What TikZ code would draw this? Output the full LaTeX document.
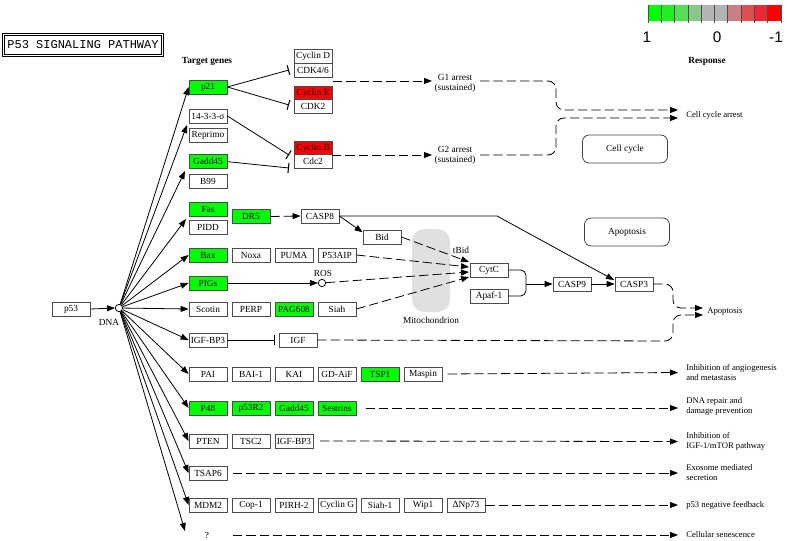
\documentclass[tikz,border=0pt]{standalone}
\usepackage{fontspec}
\setmainfont{Liberation Serif}
\newfontfamily\legfont{Liberation Sans}
\newfontfamily\ttlfont{Liberation Mono}
\usetikzlibrary{arrows.meta}
\definecolor{lg1}{HTML}{00FF00}
\definecolor{lg2}{HTML}{22EE22}
\definecolor{lg3}{HTML}{55DD55}
\definecolor{lg4}{HTML}{88C888}
\definecolor{lg5}{HTML}{B4B4B4}
\definecolor{lg6}{HTML}{B4B4B4}
\definecolor{lg7}{HTML}{C88080}
\definecolor{lg8}{HTML}{DC5050}
\definecolor{lg9}{HTML}{EC2838}
\definecolor{lg10}{HTML}{FF0000}
\begin{document}
\begin{tikzpicture}[x=0.75pt,y=-0.75pt,
  gene/.style={draw=black!70, line width=0.6pt, fill=white, minimum width=28.5pt, minimum height=10.5pt, inner sep=0pt, font=\fontsize{7}{8}\selectfont},
  up/.style={gene, fill=lg1},
  down/.style={gene, fill=lg10},
  act/.style={-{Triangle[length=6pt,width=4.5pt]}, line width=0.6pt},
  inh/.style={-{Bar[width=7.5pt,line width=0.8pt]}, line width=0.6pt},
  dsh/.style={dash pattern=on 7pt off 3pt, line width=0.6pt},
  lbl/.style={font=\fontsize{6.5}{7.5}\selectfont, align=left, anchor=west, inner sep=0pt},
  txt/.style={font=\fontsize{7}{8}\selectfont, inner sep=0pt, align=center},
  proc/.style={draw=black!75, line width=0.6pt, rounded corners=5pt, minimum width=63.75pt, minimum height=21pt, font=\fontsize{7}{8}\selectfont}
]
\useasboundingbox (0,0) rectangle (787,541);

% title
\node[draw, line width=0.9pt, double, double distance=0.8pt, minimum width=119pt, minimum height=15.5pt, inner sep=0pt, font=\ttlfont\fontsize{9}{10}\selectfont] (title) at (83,45) {P53 SIGNALING PATHWAY};
\node[txt, font=\fontsize{7}{8}\selectfont\bfseries] (tg) at (207,61) {Target genes};

% legend
\foreach \i in {1,...,10} {
  \fill[lg\i] ({648+13.3*(\i-1)},5) rectangle ({648+13.3*\i},21);
}
\foreach \i in {0,...,10} {
  \draw[black!70, line width=0.5pt] ({648+13.3*\i},5) -- ({648+13.3*\i},23);
}
\node[font=\legfont\fontsize{11.5}{12}\selectfont, inner sep=0pt] (l1) at (647,37) {1};
\node[font=\legfont\fontsize{11.5}{12}\selectfont, inner sep=0pt] (l0) at (717,37) {0};
\node[font=\legfont\fontsize{11.5}{12}\selectfont, inner sep=0pt] (lm1) at (776,37) {-1};
\node[txt, font=\fontsize{7}{8}\selectfont\bfseries] (resp) at (707,61) {Response};

% mitochondrion
\node[fill=black!12, rounded corners=9pt, minimum width=28.5pt, minimum height=62pt, inner sep=0pt] (mito) at (431,270.5) {};
\node[txt] (mitol) at (431,320) {Mitochondrion};

% p53 and DNA
\node[gene] (p53) at (71,309) {p53};
\node[draw, circle, fill=white, line width=0.6pt, minimum size=5.5pt, inner sep=0pt] (dna) at (119,308) {};
\node[txt] (dnal) at (109,322) {DNA};

% column 1
\node[up] (p21) at (208,87) {p21};
\node[gene] (s1433) at (208,116) {14-3-3-σ};
\node[gene] (reprimo) at (208,135) {Reprimo};
\node[up] (gadd45) at (208,161) {Gadd45};
\node[gene] (b99) at (208,181) {B99};
\node[up] (fas) at (208,209) {Fas};
\node[gene] (pidd) at (208,227) {PIDD};
\node[up] (bax) at (208,255) {Bax};
\node[up] (pigs) at (208,283) {PIGs};
\node[gene] (scotin) at (208,309) {Scotin};
\node[gene] (igfbp3) at (208,340) {IGF-BP3};
\node[gene] (pai) at (208,374) {PAI};
\node[up] (p48) at (208,408) {P48};
\node[gene] (pten) at (208,441) {PTEN};
\node[gene] (tsap6) at (208,473) {TSAP6};
\node[gene] (mdm2) at (208,505) {MDM2};
\node[txt] (q) at (207,535) {?};

% cyclins
\node[gene] (cycd) at (313,56) {Cyclin D};
\node[gene] (cdk46) at (313,70) {CDK4/6};
\node[down] (cyce) at (313,93) {Cyclin E};
\node[gene] (cdk2) at (313,106) {CDK2};
\node[down] (cycb) at (313,148) {Cyclin B};
\node[gene] (cdc2) at (313,161) {Cdc2};

% apoptosis part
\node[up] (dr5) at (251,216.5) {DR5};
\node[gene] (casp8) at (320,216) {CASP8};
\node[gene] (bid) at (382,237) {Bid};
\node[gene] (noxa) at (251,255) {Noxa};
\node[gene] (puma) at (294,255) {PUMA};
\node[gene] (p53aip) at (337,255) {P53AIP};
\node[draw, circle, fill=white, line width=0.6pt, minimum size=5.5pt, inner sep=0pt] (ros) at (322,283) {};
\node[txt] (rosl) at (323,273) {ROS};
\node[gene] (perp) at (251,309) {PERP};
\node[up] (pag608) at (294,309) {PAG608};
\node[gene] (siah) at (337,309) {Siah};
\node[gene] (igf) at (298,340) {IGF};
\node[txt] (tbid) at (461,250) {tBid};
\node[gene] (cytc) at (489,270) {CytC};
\node[gene] (apaf) at (489,296) {Apaf-1};
\node[gene] (casp9) at (572,284) {CASP9};
\node[gene] (casp3) at (634,284) {CASP3};

% lower rows
\node[gene] (bai1) at (251,374) {BAI-1};
\node[gene] (kai) at (294,374) {KAI};
\node[gene] (gdaif) at (337,374) {GD-AiF};
\node[up] (tsp1) at (380,374) {TSP1};
\node[gene] (maspin) at (423,374) {Maspin};
\node[up] (p53r2) at (251,408) {p53R2};
\node[up] (gadd45b) at (294,408) {Gadd45};
\node[up] (sestrins) at (337,408) {Sestrins};
\node[gene] (tsc2) at (251,441) {TSC2};
\node[gene] (igfbp3b) at (294,441) {IGF-BP3};
\node[gene] (cop1) at (251,505) {Cop-1};
\node[gene] (pirh2) at (294,505) {PIRH-2};
\node[gene] (cycg) at (337,505) {Cyclin G};
\node[gene] (siah1) at (380,505) {Siah-1};
\node[gene] (wip1) at (423,505) {Wip1};
\node[gene] (dnp73) at (466,505) {ΔNp73};

% processes
\node[proc] (cellcycle) at (625,149) {Cell cycle};
\node[proc] (apopbox) at (627,232) {Apoptosis};

% G1 / G2
\node[txt, font=\fontsize{7}{7.5}\selectfont] (g1) at (455,83.5) {G1 arrest\\(sustained)};
\node[txt, font=\fontsize{7}{7.5}\selectfont] (g2) at (455,155.5) {G2 arrest\\(sustained)};

% outcomes
\node[lbl] (occa) at (686,115) {Cell cycle arrest};
\node[lbl] (oapo) at (707,312) {Apoptosis};
\node[lbl] (o1) at (686,372.5) {Inhibition of angiogenesis\\and metastasis};
\node[lbl] (o2) at (686,406) {DNA repair and\\damage prevention};
\node[lbl] (o3) at (686,441.5) {Inhibition of\\IGF-1/mTOR pathway};
\node[lbl] (o4) at (686,473) {Exosome mediated\\secretion};
\node[lbl] (o5) at (686,505) {p53 negative feedback};
\node[lbl] (o6) at (686,535) {Cellular senescence};

% coordinates
\coordinate (f2) at (187,125);
\coordinate (f3) at (185,171);
\coordinate (f4) at (186,219);
\coordinate (f16) at (185,531);
\coordinate (b1) at (289,70);
\coordinate (b2) at (289,105);
\coordinate (b3) at (289,155);
\coordinate (b4) at (289,168);
\coordinate (g1in) at (432,81);
\coordinate (g1out) at (480,81);
\coordinate (g1src) at (333,81);
\coordinate (g2in) at (432,155);
\coordinate (g2out) at (480,155);
\coordinate (g2src) at (332,155);
\coordinate (cy1) at (469,262);
\coordinate (cy2) at (469,267);
\coordinate (cy3) at (469,272);
\coordinate (cy4) at (469,277);
\coordinate (c3in) at (614,280);
\coordinate (c8bend) at (497,216);

% p53 -> DNA
\draw[act] (p53.east) -- (dna.west);
\foreach \t in {p21.west, f2, f3, f4, bax.west, pigs.west, scotin.west, igfbp3.west, pai.west, p48.west, pten.west, tsap6.west, mdm2.west, f16}
  \draw[act] (dna) -- (\t);

% inhibitions of cyclins
\draw[inh] (p21.east) -- (b1);
\draw[inh] (p21.east) -- (b2);
\draw[inh] (s1433.east) -- (b3);
\draw[inh] ([yshift=-0.5pt]gadd45.east) -- (b4);

% to G1/G2 arrest
\draw[dsh, act] (g1src) -- (g1in);
\draw[dsh, act] (g2src) -- (g2in);
\draw[dsh, act, rounded corners=6pt] (g1out) -- (556,81) -- (556,110) -- (678,110);
\draw[dsh, act, rounded corners=6pt] (g2out) -- (556,155) -- (556,118) -- (678,118);

% apoptosis
\draw[dsh, act] (dr5.east) -- (casp8.west);
\draw[act] (casp8.east) -- ([yshift=-2pt]bid.north west);
\draw[act] (casp8.east) -- (c8bend) -- (c3in);
\draw[dsh, act] (bid.east) -- (cy1);
\draw[dsh, act] (p53aip.east) -- (cy2);
\draw[act] (pigs.east) -- (ros);
\draw[dsh, act] (ros) -- (cy3);
\draw[dsh, act] (siah.east) -- (cy4);
\draw[line width=0.6pt, rounded corners=4pt] (cytc.east) -- (526,270) -- (526,284);
\draw[line width=0.6pt, rounded corners=4pt] (apaf.east) -- (526,296) -- (526,284);
\draw[act] (526,284) -- (casp9.west);
\draw[act] (casp9.east) -- (casp3.west);
\draw[dsh, act, rounded corners=6pt] (casp3.east) -- (673,284) -- (673,308) -- (703,308);
\draw[inh] (igfbp3.east) -- ([xshift=-3pt]igf.west);
\draw[dsh, act, rounded corners=6pt] (igf.east) -- (673,341) -- (673,315) -- (703,315);

% outcomes of lower rows
\draw[dsh, act, shorten <=4pt] (maspin.east) -- ([xshift=-6pt]o1.west);
\draw[dsh, act, shorten <=7pt] (sestrins.east) -- (678,408);
\draw[dsh, act, shorten <=5pt] (igfbp3b.east) -- ([xshift=-6pt]o3.west);
\draw[dsh, act, shorten <=4pt] (tsap6.east) -- ([xshift=-6pt]o4.west);
\draw[dsh, act] (dnp73.east) -- ([xshift=-6pt]o5.west);
\draw[dsh, act] (233,535) -- ([xshift=-6pt]o6.west);
\end{tikzpicture}
\end{document}
